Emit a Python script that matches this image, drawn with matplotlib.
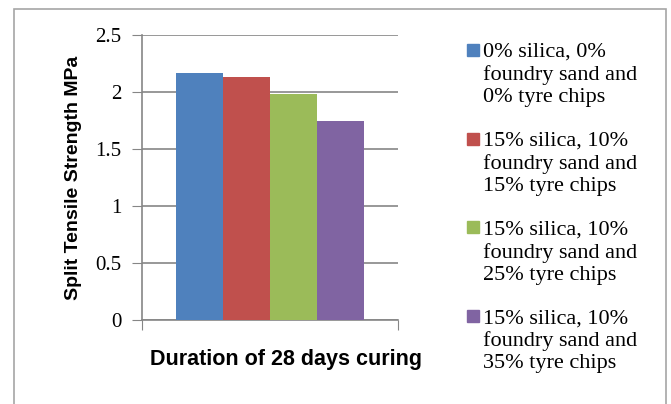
import matplotlib
matplotlib.use("Agg")
import matplotlib.pyplot as plt
from matplotlib.patches import Rectangle
import numpy as np

# values
series = ["0% silica, 0%\nfoundry sand and\n0% tyre chips",
          "15% silica, 10%\nfoundry sand and\n15% tyre chips",
          "15% silica, 10%\nfoundry sand and\n25% tyre chips",
          "15% silica, 10%\nfoundry sand and\n35% tyre chips"]
values = [2.17, 2.13, 1.98, 1.75]
colors = ["#4f81bd", "#c0504d", "#9bbb59", "#8064a2"]
yticks = [0, 0.5, 1, 1.5, 2, 2.5]
ytick_labels = ["0", "0.5", "1", "1.5", "2", "2.5"]

W, H = 671, 404
fig = plt.figure(figsize=(W / 100, H / 100), dpi=100)
ax = fig.add_axes([142 / W, 1 - 320 / H, (398 - 142) / W, (320 - 35) / H])

# outer chart border
fig.patches.append(Rectangle((14 / W, -0.1), (666 - 14) / W, 1.1 - 9 / H,
                             transform=fig.transFigure, fill=False,
                             edgecolor="#a6a6a6", lw=1.2))

bw = 47 / 256
x = np.arange(len(values)) * bw + 34 / 256 + bw / 2
for xi, v, c in zip(x, values, colors):
    ax.bar(xi, v, width=bw, color=c, zorder=3)

ax.set_xlim(0, 1)
ax.set_ylim(0, 2.5)
ax.set_yticks(yticks)
ax.set_yticklabels(ytick_labels, family="Liberation Serif", fontsize=15)
ax.set_xticks([0, 1])
ax.set_xticklabels([])
ax.tick_params(axis="y", length=7, color="#868686", pad=8)
ax.tick_params(axis="x", length=7, direction="out", color="#868686")
ax.grid(axis="y", color="#868686", lw=1.2, zorder=0)
for s in ["top", "right"]:
    ax.spines[s].set_visible(False)
for s in ["left", "bottom"]:
    ax.spines[s].set_color("#868686")
    ax.spines[s].set_linewidth(1.2)

sans = ["Liberation Sans Narrow", "Liberation Sans", "DejaVu Sans"]
fig.text(73 / W, 1 - 178 / H, "Split Tensile Strength MPa", rotation=90,
         ha="center", va="center", fontsize=14, fontweight="bold", family=sans)
fig.text(286 / W, 1 - 359 / H, "Duration of 28 days curing",
         ha="center", va="center", fontsize=15.5, fontweight="bold", family=sans)

# legend, drawn by hand so the square sits on the first line
for i, (lab, c) in enumerate(zip(series, colors)):
    ytop = 43 + i * 88.7
    fig.text(483 / W, 1 - ytop / H, lab, ha="left", va="top",
             family="Liberation Serif", fontsize=16, linespacing=1.22)
    fig.patches.append(Rectangle((467 / W, 1 - (ytop + 13) / H), 12 / W, 12 / H,
                                 transform=fig.transFigure, color=c))

fig.savefig("out.png", dpi=100)
